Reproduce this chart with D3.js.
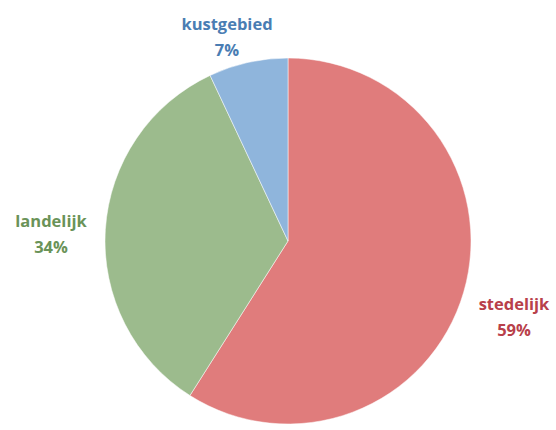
<!DOCTYPE html>
<html><head><meta charset="utf-8">
<script src="https://cdn.jsdelivr.net/npm/d3@7"></script>
<style>body{margin:0;background:#fff}svg{display:block}</style>
</head><body>
<svg id="c" width="556" height="430"></svg>
<script>
const categories = ["stedelijk", "landelijk", "kustgebied"];
const values = [59, 34, 7];
const labels = ["59%", "34%", "7%"];
const sliceColors = ["#e07c7c", "#9cbb8d", "#8fb5dc"];
const textColors = ["#b8404a", "#6a9358", "#4a7db3"];
const labelPos = [[514, 310], [51, 227], [227, 30]];

const svg = d3.select("#c");
const cx = 288, cy = 241, r = 183;
const data = categories.map((c, i) => ({cat: c, value: values[i], label: labels[i], i}));
const pie = d3.pie().value(d => d.value).sort(null);
const arc = d3.arc().innerRadius(0).outerRadius(r);
const g = svg.append("g").attr("transform", `translate(${cx},${cy})`);
g.selectAll("path").data(pie(data)).join("path")
  .attr("d", arc).attr("fill", d => sliceColors[d.data.i])
  .attr("stroke", "#fff").attr("stroke-width", 0.5);

const t = svg.append("g").attr("font-family", "'Open Sans', sans-serif")
  .attr("font-weight", "bold").attr("font-size", 16.5).attr("text-anchor", "middle");
data.forEach(d => {
  const [x, y] = labelPos[d.i];
  t.append("text").attr("x", x).attr("y", y).attr("fill", textColors[d.i]).text(d.cat);
  t.append("text").attr("x", x).attr("y", y + 26).attr("fill", textColors[d.i]).text(d.label);
});
</script>
</body></html>
